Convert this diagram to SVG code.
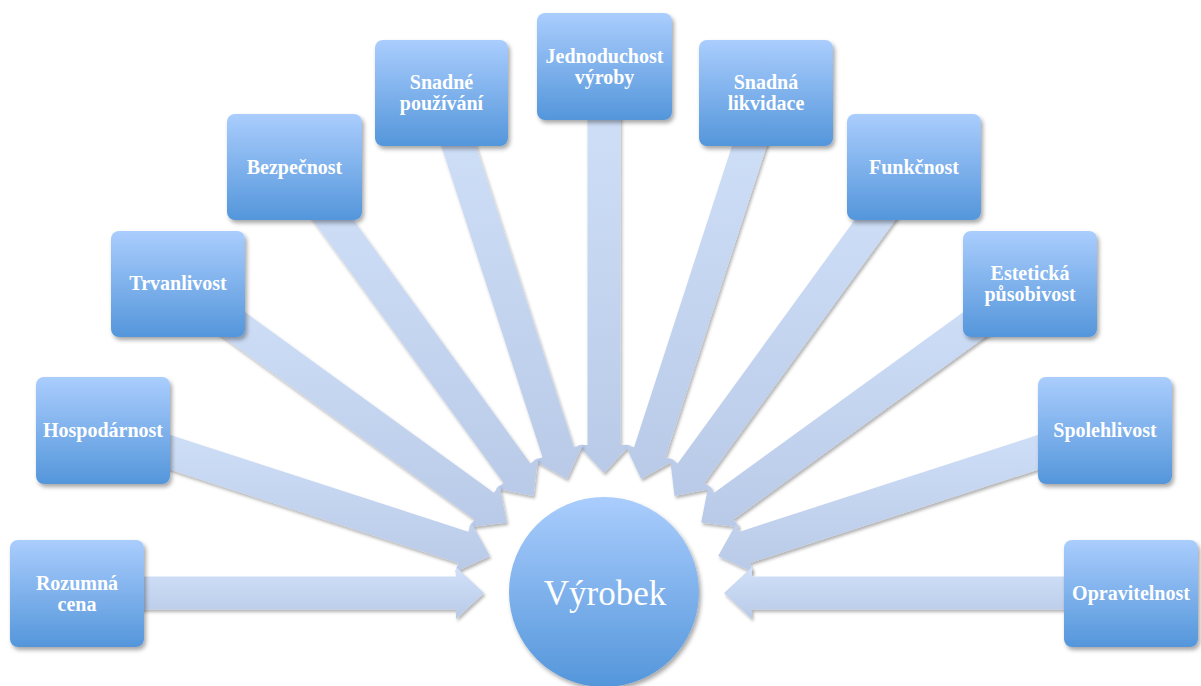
<svg xmlns="http://www.w3.org/2000/svg" width="1201" height="686" viewBox="0 0 1201 686">
  <defs>
    <linearGradient id="boxFill" x1="0" y1="0" x2="0" y2="1">
      <stop offset="0" stop-color="#aacdfd"/>
      <stop offset="1" stop-color="#5496db"/>
    </linearGradient>
    <linearGradient id="arrowFill" x1="0" y1="0" x2="0" y2="1">
      <stop offset="0" stop-color="#d1e1f9"/>
      <stop offset="1" stop-color="#b9cae8"/>
    </linearGradient>
    <filter id="shadow" x="-20%" y="-20%" width="150%" height="150%">
      <feDropShadow dx="2" dy="3" stdDeviation="2.2" flood-color="#000" flood-opacity="0.35"/>
    </filter>
    <filter id="arrowShadow" x="-10%" y="-10%" width="130%" height="130%">
      <feDropShadow dx="1.5" dy="2.5" stdDeviation="1.8" flood-color="#000" flood-opacity="0.3"/>
    </filter>
  </defs>
  <style>
    .box { fill: url(#boxFill); filter: url(#shadow); }
    .arrow { fill: url(#arrowFill); filter: url(#arrowShadow); }
    .label { font-family: "Liberation Serif", "Times New Roman", serif; font-weight: bold; font-size: 20px; fill: #ffffff; text-anchor: middle; }
    .hub { font-family: "Liberation Serif", "Times New Roman", serif; font-size: 35px; fill: #ffffff; text-anchor: middle; }
  </style>
  <rect width="1201" height="686" fill="#ffffff"/>

  <!-- block arrows pointing at the hub -->
  <g id="connectors">
    <polygon class="arrow" points="587.5,66.5 587.5,445 578,445 604,473 630,445 620.5,445 620.5,66.5"/>
    <polygon class="arrow" points="425.81,98.10 542.57,457.35 533.53,460.29 566.91,478.88 582.99,444.21 573.95,447.15 457.19,87.90"/>
    <polygon class="arrow" points="782.19,98.10 665.43,457.35 674.47,460.29 641.09,478.88 625.01,444.21 634.05,447.15 750.81,87.90"/>
    <polygon class="arrow" points="281.15,176.70 503.65,482.97 495.97,488.55 533.46,495.92 538.03,457.99 530.35,463.57 307.85,157.30"/>
    <polygon class="arrow" points="926.85,176.70 704.35,482.97 712.03,488.55 674.54,495.92 669.97,457.99 677.65,463.57 900.15,157.30"/>
    <polygon class="arrow" points="168.31,297.36 474.50,519.46 468.92,527.15 506.86,522.54 499.46,485.05 493.88,492.74 187.69,270.64"/>
    <polygon class="arrow" points="1039.69,297.36 733.50,519.46 739.08,527.15 701.14,522.54 708.54,485.05 714.12,492.74 1020.31,270.64"/>
    <polygon class="arrow" points="97.91,446.19 458.14,563.03 455.21,572.07 489.86,555.98 471.25,522.61 468.32,531.65 108.09,414.81"/>
    <polygon class="arrow" points="1110.09,446.19 749.86,563.03 752.79,572.07 718.14,555.98 736.75,522.61 739.68,531.65 1099.91,414.81"/>
    <polygon class="arrow" points="77,576.5 456,576.5 456,567 484,593 456,619 456,609.5 77,609.5"/>
    <polygon class="arrow" points="1131,576.5 752,576.5 752,567 724,593 752,619 752,609.5 1131,609.5"/>
  </g>

  <g id="hub">
    <circle cx="604" cy="592" r="95" fill="url(#boxFill)" filter="url(#shadow)"/>
    <text class="hub" x="605" y="605">Výrobek</text>
  </g>

  <g id="rozumna-cena">
    <rect class="box" x="10" y="540" width="134" height="107" rx="8"/>
    <text class="label" x="77" y="590">Rozumná</text>
    <text class="label" x="77" y="611">cena</text>
  </g>
  <g id="hospodarnost">
    <rect class="box" x="36" y="377" width="134" height="107" rx="8"/>
    <text class="label" x="103" y="437">Hospodárnost</text>
  </g>
  <g id="trvanlivost">
    <rect class="box" x="111" y="231" width="134" height="106" rx="8"/>
    <text class="label" x="178" y="290">Trvanlivost</text>
  </g>
  <g id="bezpecnost">
    <rect class="box" x="227" y="114" width="135" height="106" rx="8"/>
    <text class="label" x="294.5" y="174">Bezpečnost</text>
  </g>
  <g id="snadne-pouzivani">
    <rect class="box" x="375" y="40" width="133" height="106" rx="8"/>
    <text class="label" x="441.5" y="89">Snadné</text>
    <text class="label" x="441.5" y="110">používání</text>
  </g>
  <g id="jednoduchost-vyroby">
    <rect class="box" x="537" y="13" width="135" height="107" rx="8"/>
    <text class="label" x="604.5" y="63">Jednoduchost</text>
    <text class="label" x="604.5" y="84">výroby</text>
  </g>
  <g id="snadna-likvidace">
    <rect class="box" x="699" y="40" width="134" height="106" rx="8"/>
    <text class="label" x="766" y="89">Snadná</text>
    <text class="label" x="766" y="110">likvidace</text>
  </g>
  <g id="funkcnost">
    <rect class="box" x="847" y="114" width="134" height="106" rx="8"/>
    <text class="label" x="914" y="174">Funkčnost</text>
  </g>
  <g id="esteticka-pusobivost">
    <rect class="box" x="963" y="231" width="134" height="106" rx="8"/>
    <text class="label" x="1030" y="280">Estetická</text>
    <text class="label" x="1030" y="301">působivost</text>
  </g>
  <g id="spolehlivost">
    <rect class="box" x="1038" y="377" width="134" height="107" rx="8"/>
    <text class="label" x="1105" y="437">Spolehlivost</text>
  </g>
  <g id="opravitelnost">
    <rect class="box" x="1064" y="540" width="134" height="107" rx="8"/>
    <text class="label" x="1131" y="600">Opravitelnost</text>
  </g>
</svg>
